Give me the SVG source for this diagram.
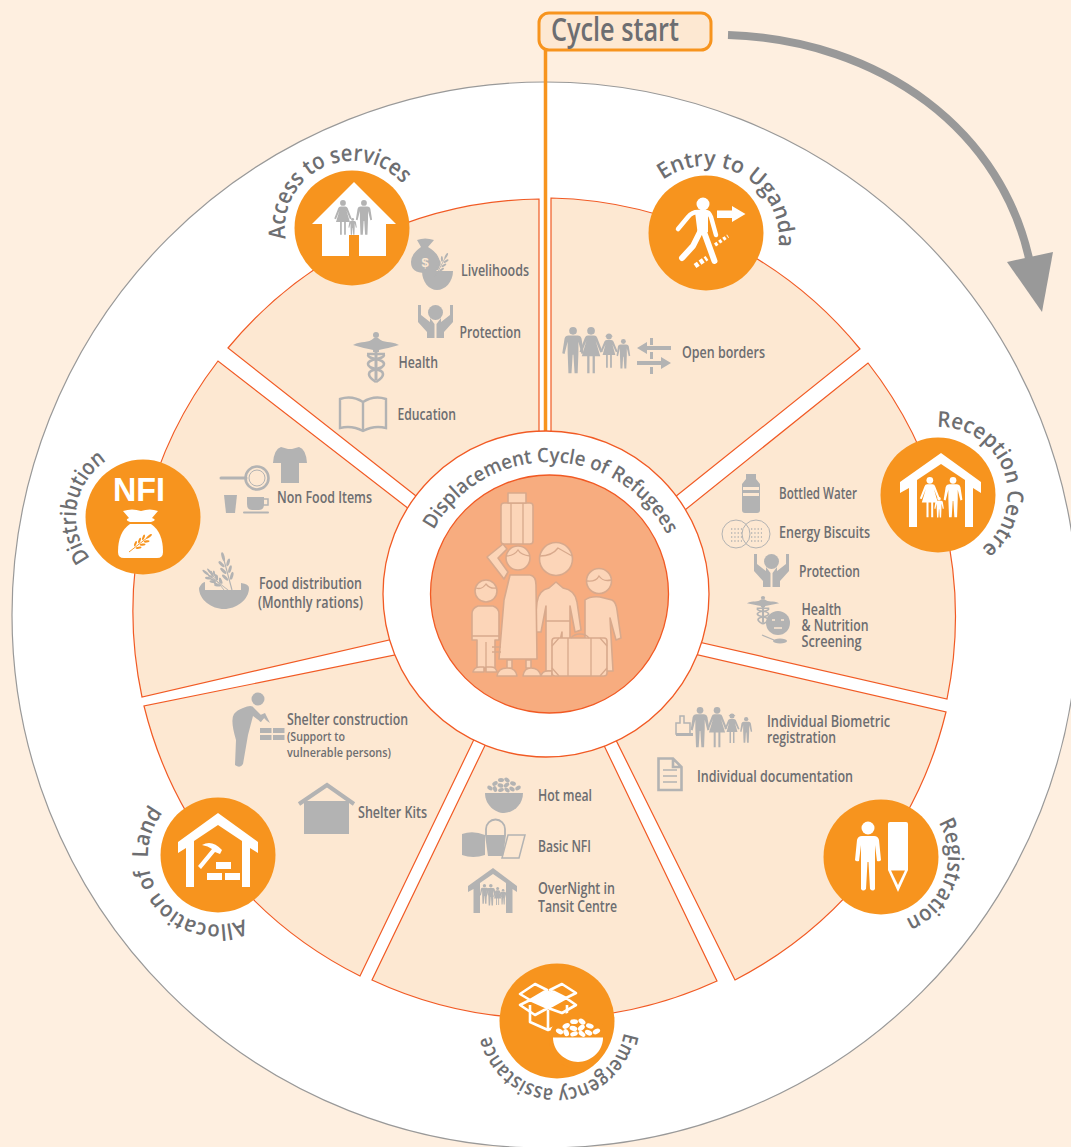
<svg xmlns="http://www.w3.org/2000/svg" xmlns:xlink="http://www.w3.org/1999/xlink" width="1071" height="1147" viewBox="0 0 1071 1147">
<style>
.wedge{fill:#fde8d2;stroke:#f15a24;stroke-width:1.2}
.badge{fill:#f7941e}
.w{fill:#fff;color:#fff}
.g{fill:#b3b3b3;color:#b3b3b3}
.gl{fill:none;stroke:#b3b3b3}
.t{font-family:"Open Sans","Noto Sans",sans-serif;font-weight:600;fill:#6d6e71;font-size:15.500px}
.ts{font-size:13px}
.c{font-family:"Open Sans","Noto Sans",sans-serif;font-weight:600;fill:#6d6e71;font-size:22px}
.fam{fill:#fcd5b8;stroke:#d8a98c;stroke-width:1.6;stroke-linejoin:round}
.famh{fill:none;stroke:#d8a98c;stroke-width:1.3}
</style>
<defs>
<path id="p-entry" d="M663 180A73 73 0 1 1 735 306"/>
<path id="p-access" d="M285.800 238.500A67 67 0 1 1 394.200 280"/>
<path id="p-reception" d="M937 427A68 68 0 0 1 951 562"/>
<path id="p-registration" d="M938.400 822.500A67 67 0 0 1 870.500 923"/>
<path id="p-emergency" d="M624 1032.800A68 68 0 1 1 493 998"/>
<path id="p-allocation" d="M244 919A69 69 0 0 1 190 792"/>
<path id="p-distribution" d="M90.200 558.200A67 67 0 0 1 145.300 450"/>
<path id="p-title" d="M433.600 530A132 132 0 0 1 678.600 569"/>
<g id="man"><circle cx="12" cy="5" r="5"/><path d="M6 11H18Q22 11 23 15L26 34L23 35L19 19V33L18 60H14L12.500 36H11.500L10 60H6L5 33V19L1 35L-2 34L1 15Q2 11 6 11Z"/></g>
<g id="woman"><circle cx="12" cy="5" r="5"/><path d="M8 11H16Q19 11 20 14L27 32L24 33L18 18L24 38H17V60H14V38H10V60H7V38H0L6 18L0 33L-3 32L4 14Q5 11 8 11Z"/></g>
<g id="girl"><circle cx="12" cy="6" r="5"/><path d="M5 6Q12 -2 19 6Z"/><path d="M8 12H16Q19 12 20 15L27 32L24 33L18 20L23 38H17V60H14V38H10V60H7V38H1L6 20L0 33L-3 32L4 15Q5 12 8 12Z"/></g>
<g id="cad"><circle cx="0" cy="3" r="3"/><path d="M-23 13C-14 8 -8 12 -2 6H2C8 12 14 8 23 13C16 15 8 17 3 18V20H-3V18C-8 17 -16 15 -23 13Z"/><rect x="-1.500" y="18" width="3" height="30"/><path fill="none" stroke="currentColor" stroke-width="2.600" d="M-9 22H9M8 23C8 28 -8 26 -8 32C-8 38 7 36 7 42C7 46 3 48 0 50M-8 23C-8 28 8 26 8 32C8 38 -7 36 -7 42C-7 46 -3 48 0 50"/></g>
<g id="hands"><circle cx="17.500" cy="7.500" r="7.500"/><path d="M0 0L3 0V10L12 17V13L16.500 19V33H9V27L0 17Z"/><path d="M35 0L32 0V10L23 17V13L18.500 19V33H26V27L35 17Z"/></g>
<g id="wheat"><path d="M0 0H32" stroke="currentColor" stroke-width="1" fill="none"/><ellipse cx="12" cy="-3" rx="3.500" ry="1.300" transform="rotate(-30 12 -3)"/><ellipse cx="12" cy="3" rx="3.500" ry="1.300" transform="rotate(30 12 3)"/><ellipse cx="18" cy="-3" rx="3.500" ry="1.300" transform="rotate(-30 18 -3)"/><ellipse cx="18" cy="3" rx="3.500" ry="1.300" transform="rotate(30 18 3)"/><ellipse cx="24" cy="-3" rx="3.500" ry="1.300" transform="rotate(-30 24 -3)"/><ellipse cx="24" cy="3" rx="3.500" ry="1.300" transform="rotate(30 24 3)"/><ellipse cx="30" cy="0" rx="4" ry="1.300"/></g>
<g id="beans"><ellipse cx="5" cy="11" rx="3" ry="2" transform="rotate(30 5 11)"/><ellipse cx="10" cy="6.500" rx="3" ry="2" transform="rotate(-30 10 6.500)"/><ellipse cx="16" cy="3" rx="3" ry="2"/><ellipse cx="22" cy="3" rx="3" ry="2" transform="rotate(40 22 3)"/><ellipse cx="28" cy="6.500" rx="3" ry="2" transform="rotate(20 28 6.500)"/><ellipse cx="33" cy="11" rx="3" ry="2" transform="rotate(-30 33 11)"/><ellipse cx="10" cy="12" rx="3" ry="2" transform="rotate(70 10 12)"/><ellipse cx="15.500" cy="8.500" rx="3" ry="2" transform="rotate(20 15.500 8.500)"/><ellipse cx="21.500" cy="8" rx="3" ry="2" transform="rotate(-40 21.500 8)"/><ellipse cx="27" cy="12" rx="3" ry="2" transform="rotate(30 27 12)"/><ellipse cx="16" cy="13" rx="3" ry="1.800" transform="rotate(-20 16 13)"/><ellipse cx="22" cy="13" rx="3" ry="1.800" transform="rotate(40 22 13)"/><path d="M0 16H38C38 28 28 36 19 36C10 36 0 28 0 16Z"/></g>
</defs>
<rect width="1071" height="1147" fill="#feefe0"/>
<circle id="outer-ring" cx="545" cy="615" r="533" fill="#fff" stroke="#999" stroke-width="1.200"/>

<g id="wedges">
<path class="wedge" d="M551 198A411 411 0 0 1 860 349L665 505L551 440Z"/>
<path class="wedge" d="M868 363A411 411 0 0 1 947 699L690 640L675 518Z"/>
<path class="wedge" d="M946 712A411 411 0 0 1 735 980L610 728L685 652Z"/>
<path class="wedge" d="M717 981A411 411 0 0 1 372 980L490 735L599 735Z"/>
<path class="wedge" d="M360 976A411 411 0 0 1 144 706L405 653L480 727Z"/>
<path class="wedge" d="M142 697A411 411 0 0 1 218 361L418 516L402 637Z"/>
<path class="wedge" d="M228 348A411 411 0 0 1 539 199L539 440L430 507Z"/>
</g>

<g id="connectors">
<path d="M545.500 48V434" fill="none" stroke="#f7941e" stroke-width="3.500"/>
<path d="M728 35C880 40 1005 130 1031 268" fill="none" stroke="#999" stroke-width="8"/>
<path d="M1007 262L1053 252L1042 312Z" fill="#999"/>
</g>

<g id="cycle-start">
<rect x="539" y="13" width="172" height="37" rx="10" fill="#fde8d2" stroke="#f7941e" stroke-width="3"/>
<text x="551" y="41" textLength="128" lengthAdjust="spacingAndGlyphs" style="font-family:'Open Sans','Noto Sans',sans-serif;font-weight:600;font-size:32px;fill:#6d6e71">Cycle start</text>
</g>

<g id="centre">
<circle cx="546" cy="594" r="163" fill="#fff" stroke="#f15a24" stroke-width="1.300"/>
<circle cx="549.500" cy="594" r="119" fill="#f7ac7f" stroke="#f15a24" stroke-width="1.300"/>
<text class="c" style="font-size:20px"><textPath href="#p-title" xlink:href="#p-title" textLength="286" lengthAdjust="spacingAndGlyphs">Displacement Cycle of Refugees</textPath></text>
<g id="refugee-family">
<path class="fam" d="M585 600Q590 596 600 597L612 600Q616 602 617 610L621 638L616 640L610 618L613 671H585Z"/>
<circle class="fam" cx="599" cy="581" r="12.500"/>
<path class="famh" d="M587 581Q596 582 599 576Q603 582 611 580"/>
<path class="fam" d="M549 588L556 582L563 588Q575 590 577 602L581 630L575 632L570 606V671H562V632L553 671H546V606L541 632L534 632L537 602Q539 590 549 588Z"/>
<circle class="fam" cx="556" cy="559" r="16.500"/>
<path class="famh" d="M540 556Q552 556 558 548Q565 552 572 556M545 621H570"/>
<path class="fam" d="M504 579L487 557L503 544L507 549L498 558L508 572Z"/>
<path class="fam" d="M510 575H530Q536 576 536 585L537 659H499L504 600Z"/>
<circle class="fam" cx="518" cy="558" r="12"/>
<path class="famh" d="M506 556Q514 556 518 550Q521 555 530 556"/>
<path class="fam" d="M507 660H512V668H507ZM526 660H531V668H526ZM497 676Q498 668 507 668Q516 668 517 676ZM523 676Q524 668 531 668Q539 668 541 676Z"/>
<rect class="fam" x="501" y="503" width="32" height="41" rx="3"/>
<rect class="fam" x="508" y="493" width="18" height="10"/>
<path class="famh" d="M511 503V544M523 503V544"/>
<path class="fam" d="M478 606H493Q499 608 499 614V640H495V668H477V640H472V614Q472 608 478 606Z"/>
<circle class="fam" cx="486" cy="591" r="11"/>
<path class="famh" d="M476 588Q482 590 486 584Q490 589 496 588M486 642V668M472 636H499M492 647H501M492 652H501"/>
<path class="fam" d="M473 672Q474 667 480 667H484V672ZM486 672V667H491Q496 667 497 672Z"/>
<path class="fam" d="M541 676Q542 671 548 671H552V676Z"/>
<rect class="fam" x="552" y="638" width="55" height="38" rx="3"/>
<path class="famh" d="M568 638V676M591 638V676M552 646L559 638M600 638L607 646M552 668L559 676M600 676L607 668M571 638Q574 634 580 634Q586 634 589 638"/>
</g>
</g>

<g id="entry-to-uganda">
<circle class="badge" cx="706" cy="233" r="57.500"/>
<g class="w">
<circle cx="703" cy="204" r="6.500"/>
<path d="M678 229L688 217Q692 212 698 212H706Q709 212 711 217L716 235" fill="none" stroke="#fff" stroke-width="4.500" stroke-linecap="round" stroke-linejoin="round"/>
<path d="M695 212H708L708 232L698 236Z"/>
<path d="M700 232L693 246L682 258M704 232L714.500 261" fill="none" stroke="#fff" stroke-width="6" stroke-linecap="round" stroke-linejoin="round"/>
<path d="M717 210.500H732V206L745.500 214L732 222V218H717Z"/>
<path d="M695 266L707 258" fill="none" stroke="#fff" stroke-width="5" stroke-dasharray="4 2"/>
<path d="M715 245L728 236" fill="none" stroke="#fff" stroke-width="3.500" stroke-dasharray="3 2"/>
</g>
<text class="c"><textPath href="#p-entry" xlink:href="#p-entry" textLength="168" lengthAdjust="spacingAndGlyphs">Entry to Uganda</textPath></text>
<g class="g"><use href="#man" xlink:href="#man" transform="translate(563.800 327) scale(.77)"/><use href="#woman" xlink:href="#woman" transform="translate(581.800 327) scale(.77)"/><use href="#girl" xlink:href="#girl" transform="translate(602 333) scale(.58)"/><use href="#man" xlink:href="#man" transform="translate(617.500 339) scale(.49)"/>
<path d="M637 348L647 342V346H671V350H647V354ZM671 363L661 357V361H637V365H661V369ZM650 338H653V345H650ZM650 352H653V359H650ZM650 367H653V374H650Z"/></g>
<text class="t" x="682" y="358" textLength="83" lengthAdjust="spacingAndGlyphs">Open borders</text>
</g>

<g id="reception-centre">
<circle class="badge" cx="938" cy="495" r="57.500"/>
<path class="w" d="M941 453L981 482V493L973 488V527H965V480L941 464L917 480V527H909V488L900 493V482Z"/>
<g class="w"><use href="#woman" xlink:href="#woman" transform="translate(921.800 477) scale(.67)"/><use href="#man" xlink:href="#man" transform="translate(945 477) scale(.67)"/><use href="#man" xlink:href="#man" transform="translate(935 497) scale(.34)"/></g>
<text class="c"><textPath href="#p-reception" xlink:href="#p-reception" textLength="171" lengthAdjust="spacingAndGlyphs">Reception Centre</textPath></text>
<g class="g"><path d="M746 474H756V479L760 484V510Q760 513 757 513H745Q742 513 742 510V484L746 479ZM743 487V490H759V487ZM743 493V496H759V493Z" fill-rule="evenodd"/></g>
<g class="gl" stroke-width="1"><circle cx="736" cy="534" r="14"/><circle cx="756" cy="534" r="14"/></g>
<path d="M731 529H742M731 533H742M731 537H742M731 541H742M751 529H762M751 533H762M751 537H762M751 541H762" stroke="#b3b3b3" stroke-width="1.300" stroke-dasharray="1.300 2" fill="none"/>
<text class="t" x="779" y="499" textLength="78" lengthAdjust="spacingAndGlyphs">Bottled Water</text>
<text class="t" x="779" y="538" textLength="91" lengthAdjust="spacingAndGlyphs">Energy Biscuits</text>
<use class="g" href="#hands" xlink:href="#hands" transform="translate(754 554)"/>
<text class="t" x="799" y="577" textLength="61" lengthAdjust="spacingAndGlyphs">Protection</text>
<use class="g" href="#cad" xlink:href="#cad" transform="translate(763 596) scale(.7 .56)"/>
<circle cx="778" cy="623" r="12" fill="#b3b3b3"/>
<path d="M772 620H775M781 620H784M774 628H782" stroke="#fde8d2" stroke-width="1.500" fill="none"/>
<path d="M762 635L774 640" stroke="#b3b3b3" stroke-width="1.200" fill="none"/><ellipse class="g" cx="780" cy="641" rx="7" ry="2.500"/>
<text class="t" x="801.500" y="615" textLength="40" lengthAdjust="spacingAndGlyphs">Health</text>
<text class="t" x="801.500" y="631" textLength="67" lengthAdjust="spacingAndGlyphs">&amp; Nutrition</text>
<text class="t" x="801.500" y="647" textLength="60" lengthAdjust="spacingAndGlyphs">Screening</text>
</g>

<g id="registration">
<circle class="badge" cx="881" cy="857" r="57.500"/>
<g class="w"><circle cx="868" cy="828" r="6.500"/>
<path d="M862 836H874Q878 836 879 840L881 860Q880 862 877 861L875 845V889Q873 892 870 889L868.500 862H867.500L866 889Q863 892 861 889V845L859 861Q856 862 855 860L857 840Q858 836 862 836Z"/>
<path d="M890 822H906Q908 822 908 824V870L898 892L888 870V824Q888 822 890 822Z"/></g>
<path class="badge" d="M891 870.500H905L898 885Z"/>
<text class="c"><textPath href="#p-registration" xlink:href="#p-registration" textLength="116" lengthAdjust="spacingAndGlyphs">Registration</textPath></text>
<path d="M680 723V716H684V723H690V734H676V723Z" fill="none" stroke="#b3b3b3" stroke-width="1.500"/>
<rect x="676" y="733" width="17" height="3" fill="#b3b3b3"/>
<g class="g"><use href="#man" xlink:href="#man" transform="translate(692 707) scale(.67)"/><use href="#woman" xlink:href="#woman" transform="translate(709 707) scale(.67)"/><use href="#girl" xlink:href="#girl" transform="translate(726 713) scale(.5)"/><use href="#man" xlink:href="#man" transform="translate(741 717) scale(.43)"/></g>
<path d="M658.500 758.500H673L681.500 767V790H658.500ZM673 758.500V767H681.500" fill="none" stroke="#b3b3b3" stroke-width="2.600"/>
<path d="M663 770H677M663 776H677M663 782H677" stroke="#b3b3b3" stroke-width="1.300" fill="none"/>
<text class="t" x="767" y="727" textLength="123" lengthAdjust="spacingAndGlyphs">Individual Biometric</text>
<text class="t" x="767" y="743" textLength="69" lengthAdjust="spacingAndGlyphs">registration</text>
<text class="t" x="697" y="782" textLength="156" lengthAdjust="spacingAndGlyphs">Individual documentation</text>
</g>

<g id="emergency-assistance">
<circle class="badge" cx="557" cy="1021" r="57.500"/>
<g fill="none" stroke="#fff" stroke-width="2.600" stroke-linejoin="round">
<path d="M530 1005V1022L548 1030L567 1022V1005M548 1010V1030"/>
<path d="M530 1000L520 994L535 984L547 990ZM566 998L576 993L562 984L550 990ZM530 1000L520 1005L535 1015L548 1008ZM566 998L576 1005L562 1013L548 1008Z"/>
</g>
<path class="w" d="M547 990L566 998L548 1008L530 1000Z"/>
<g class="w"><circle cx="578" cy="1040" r="29" fill="#f7941e"/><use href="#beans" xlink:href="#beans" transform="translate(553 1018) scale(1.316 1.222)"/></g>
<text class="c" style="font-size:21px"><textPath href="#p-emergency" xlink:href="#p-emergency" textLength="186" lengthAdjust="spacingAndGlyphs">Emergency assistance</textPath></text>
<use class="g" href="#beans" xlink:href="#beans" transform="translate(485 777)"/>
<g class="g"><path d="M462 834Q473 830 485 835V855Q473 859 462 855Z"/><path d="M485 835H506L503 856H488Z"/></g>
<path d="M486 835V829A9.500 9.500 0 0 1 505 829V835" fill="none" stroke="#b3b3b3" stroke-width="1.800"/>
<path d="M508 835H525L519 858H502Z" fill="none" stroke="#b3b3b3" stroke-width="1.500"/>
<path class="g" d="M493 868L517 886V892L512.500 889V913H506V883L493 874L480 883V913H473.500V889L468 892V886Z"/>
<g class="g"><use href="#man" xlink:href="#man" transform="translate(480.500 884) scale(.33)"/><use href="#man" xlink:href="#man" transform="translate(486.500 884) scale(.36)"/><use href="#woman" xlink:href="#woman" transform="translate(494 887) scale(.3)"/><use href="#man" xlink:href="#man" transform="translate(500 889) scale(.26)"/></g>
<text class="t" x="538" y="801" textLength="54" lengthAdjust="spacingAndGlyphs">Hot meal</text>
<text class="t" x="538" y="852" textLength="53" lengthAdjust="spacingAndGlyphs">Basic NFI</text>
<text class="t" x="538" y="894" textLength="77" lengthAdjust="spacingAndGlyphs">OverNight in</text>
<text class="t" x="538" y="912" textLength="79" lengthAdjust="spacingAndGlyphs">Tansit Centre</text>
</g>

<g id="allocation-of-land">
<circle class="badge" cx="218" cy="855" r="57.500"/>
<path class="w" d="M218 813L258 842V853L250 848V887H242V841L218 825L194 841V887H186V848L178 853V842Z"/>
<g class="w"><path d="M202 845Q212 839 222 850L220 854L215 852L201 869L198 866L212 849Q208 846 202 845Z"/><rect x="216" y="862" width="15" height="7"/><rect x="207" y="873" width="15" height="7"/><rect x="225" y="873" width="15" height="7"/></g>
<text class="c"><textPath href="#p-allocation" xlink:href="#p-allocation" textLength="182" lengthAdjust="spacingAndGlyphs" xml:space="preserve">Allocation of  Land</textPath></text>
<g class="g"><circle cx="258" cy="699" r="6.500"/><path d="M243 708Q252 704 254 708L264 718L261 722L253 716L248 735L243 764Q240 769 235 765L236 740Q230 720 234 714Q237 710 243 708Z"/>
<rect x="260" y="728" width="11.500" height="5"/><rect x="273" y="728" width="11.500" height="5"/><rect x="260" y="735" width="11.500" height="5"/><rect x="273" y="735" width="11.500" height="5"/><path d="M258 716L265 713L270 723L267 721L264 718L260 722Z"/></g>
<path class="g" d="M304 801H349V834H304Z"/>
<path d="M299 804L327 785L354 804" fill="none" stroke="#b3b3b3" stroke-width="4"/>
<text class="t" x="287" y="725" textLength="121" lengthAdjust="spacingAndGlyphs">Shelter construction</text>
<text class="t ts" x="287" y="741" textLength="58" lengthAdjust="spacingAndGlyphs">(Support to</text>
<text class="t ts" x="287" y="757" textLength="104" lengthAdjust="spacingAndGlyphs">vulnerable persons)</text>
<text class="t" x="358" y="818" textLength="69" lengthAdjust="spacingAndGlyphs">Shelter Kits</text>
</g>

<g id="distribution">
<circle class="badge" cx="143" cy="517" r="57.500"/>
<text x="113" y="501" textLength="52" lengthAdjust="spacingAndGlyphs" style="font-family:'Liberation Sans',sans-serif;font-weight:700;font-size:34px;fill:#fff">NFI</text>
<path class="w" d="M123 511Q132 508 141 511Q150 508 158 511L152 518Q158 520 151 522H130Q124 520 129 518Z"/>
<path class="w" d="M130 524H151Q163 532 163 552Q163 558 157 558H124Q118 558 118 552Q118 532 130 524Z"/>
<use href="#wheat" xlink:href="#wheat" transform="translate(129 552) rotate(-38) scale(.85)" style="fill:#f7941e;color:#f7941e"/>
<text class="c"><textPath href="#p-distribution" xlink:href="#p-distribution" textLength="111" lengthAdjust="spacingAndGlyphs">Distribution</textPath></text>
<path d="M221 478H246" stroke="#b3b3b3" stroke-width="3" stroke-linecap="round"/>
<circle cx="257" cy="478" r="11.500" fill="none" stroke="#b3b3b3" stroke-width="2.600"/>
<circle cx="257" cy="478" r="8" fill="none" stroke="#b3b3b3" stroke-width="1"/>
<g class="g"><path d="M281 447L288 449H292L299 447Q306 449 307 463H299V483H281V463H273Q274 449 281 447Z"/>
<path d="M224 495H237L235 513H226Z"/><path d="M247 497H264V504Q264 510 259 510H252Q247 510 247 504Z"/><rect x="243" y="511.500" width="26" height="2" rx="1"/></g>
<path d="M264 499H268V505H263" fill="none" stroke="#b3b3b3" stroke-width="1.500"/>
<path class="g" d="M199 588Q202 582 205 582V590H241V583Q249 584 249 588C249 600 236 609 224 609C212 609 199 600 199 588Z"/>
<g class="g"><use href="#wheat" xlink:href="#wheat" transform="translate(228 590) rotate(-142) scale(.95)"/><use href="#wheat" xlink:href="#wheat" transform="translate(232 590) rotate(-105) scale(1.150)"/><use href="#wheat" xlink:href="#wheat" transform="translate(224 590) rotate(-128) scale(.8)"/></g>
<text class="t" x="277" y="503" textLength="95" lengthAdjust="spacingAndGlyphs">Non Food Items</text>
<text class="t" x="259" y="589" textLength="103" lengthAdjust="spacingAndGlyphs">Food distribution</text>
<text class="t" x="258" y="608" textLength="105" lengthAdjust="spacingAndGlyphs">(Monthly rations)</text>
</g>

<g id="access-to-services">
<circle class="badge" cx="352" cy="228" r="57.500"/>
<path class="w" d="M354 182L396 224H386V256H359V235H349V256H322V224H312Z"/>
<g class="g"><use href="#woman" xlink:href="#woman" transform="translate(336 200) scale(.58)"/><use href="#man" xlink:href="#man" transform="translate(357 200) scale(.58)"/><use href="#man" xlink:href="#man" transform="translate(349 218) scale(.3 .28)"/></g>
<text class="c" style="font-size:23px"><textPath href="#p-access" xlink:href="#p-access" textLength="173" lengthAdjust="spacingAndGlyphs">Access to services</textPath></text>
<g class="g"><path d="M417 240Q425 237 434 240L428 247Q440 254 440 264Q440 273 425 273Q411 273 411 262Q411 254 421 247Z"/>
<path d="M422 271H453C453 282 445 290 437 290C429 290 422 282 422 271Z"/></g>
<text x="423" y="267" style="font-family:'Liberation Sans',sans-serif;font-weight:700;font-size:13px;fill:#fde8d2" text-anchor="middle" dx="2">$</text>
<use class="g" href="#wheat" xlink:href="#wheat" transform="translate(435 277) rotate(-62) scale(.8)"/>
<use class="g" href="#hands" xlink:href="#hands" transform="translate(418 305)"/>
<use class="g" href="#cad" xlink:href="#cad" transform="translate(376 332)"/>
<path d="M340 399Q352 395 363 402Q374 395 386 399V428Q374 425 363 431Q352 425 340 428ZM363 402V431" fill="none" stroke="#b3b3b3" stroke-width="2.400"/>
<text class="t" x="461" y="276" textLength="68" lengthAdjust="spacingAndGlyphs">Livelihoods</text>
<text class="t" x="459.500" y="337.500" textLength="61.500" lengthAdjust="spacingAndGlyphs">Protection</text>
<text class="t" x="398.500" y="368" textLength="39.500" lengthAdjust="spacingAndGlyphs">Health</text>
<text class="t" x="397.500" y="420" textLength="58.500" lengthAdjust="spacingAndGlyphs">Education</text>
</g>
</svg>
